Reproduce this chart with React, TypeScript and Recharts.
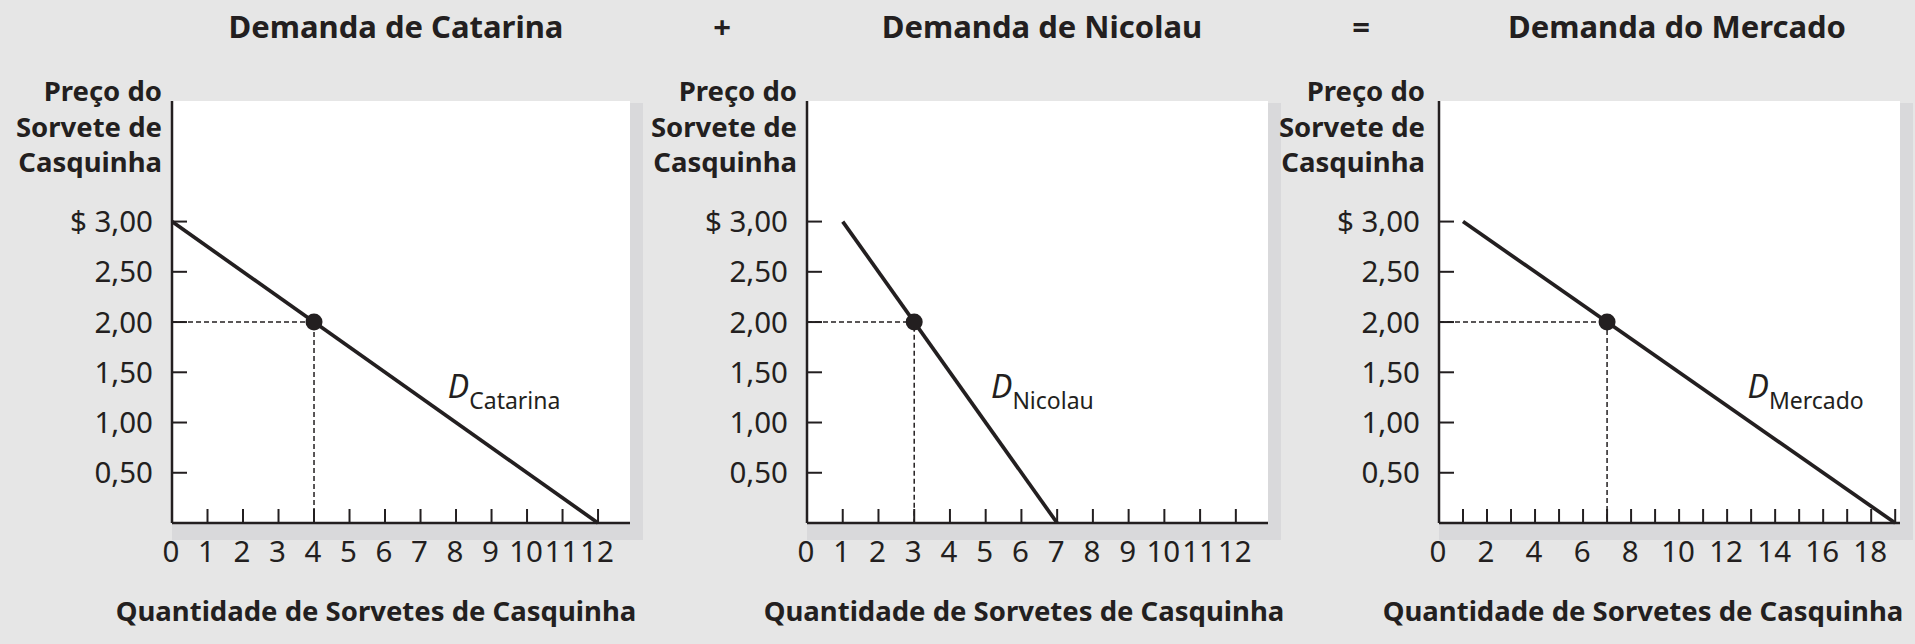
import {
  CartesianGrid,
  Line,
  LineChart,
  ReferenceDot,
  XAxis,
  YAxis,
} from "recharts";

// price axis (shared by the three panels)
const PRICE_TICKS = [0, 0.5, 1, 1.5, 2, 2.5, 3];
const PRICE_LABELS = ["", "0,50", "1,00", "1,50", "2,00", "2,50", "$ 3,00"];

// quantity axes
const SMALL_Q_TICKS = [0, 1, 2, 3, 4, 5, 6, 7, 8, 9, 10, 11, 12];
const SMALL_Q_LABELS = SMALL_Q_TICKS;
const MARKET_Q_TICKS = [
  0, 1, 2, 3, 4, 5, 6, 7, 8, 9, 10, 11, 12, 13, 14, 15, 16, 17, 18, 19,
];
const MARKET_Q_LABELS = [0, 2, 4, 6, 8, 10, 12, 14, 16, 18];

// demand curves
const catarinaDemand = [
  { q: 0, p: 3 },
  { q: 12, p: 0 },
];
const nicolauDemand = [
  { q: 1, p: 3 },
  { q: 7, p: 0 },
];
const mercadoDemand = [
  { q: 1, p: 3 },
  { q: 19, p: 0 },
];

// quantity demanded at $2,00
const catarinaPoint = { q: 4, p: 2 };
const nicolauPoint = { q: 3, p: 2 };
const mercadoPoint = { q: 7, p: 2 };

// where the curve names sit
const catarinaTag = { q: 7.77, p: 1.24, name: "Catarina" };
const nicolauTag = { q: 5.15, p: 1.24, name: "Nicolau" };
const mercadoTag = { q: 12.85, p: 1.24, name: "Mercado" };

const INK = "#231f20";
const FONT = "'Noto Sans', 'Open Sans', sans-serif";

const PLOT_TOP = 101;
const PLOT_BOTTOM = 523;
const CHART_H = 644;
const PAD_LEFT = 170;
const PAD_RIGHT = 30;
const AXIS_W = 1;
const TICK_FONT = 29.5;

type Pt = { q: number; p: number };

type PanelProps = {
  plotLeft: number;
  plotWidth: number;
  xMax: number;
  qTicks: number[];
  qLabels: number[];
  demand: Pt[];
  point: Pt;
  tag: { q: number; p: number; name: string };
};

function guide(point: Pt): Pt[] {
  return [
    { q: 0, p: point.p },
    { q: point.q, p: point.p },
    { q: point.q, p: 0 },
  ];
}

function Panel({
  plotLeft,
  plotWidth,
  xMax,
  qTicks,
  qLabels,
  demand,
  point,
  tag,
}: PanelProps) {
  const width = PAD_LEFT + plotWidth + PAD_RIGHT;

  const xTick = (props: any) => {
    const { x, y, payload } = props;
    const v = payload.value;
    return (
      <g>
        {v !== 0 && (
          <line x1={x} y1={y} x2={x} y2={y - 14} stroke={INK} strokeWidth={2} />
        )}
        {qLabels.includes(v) && (
          <text
            x={x - 1}
            y={y + 39}
            textAnchor="middle"
            fontSize={TICK_FONT}
            fill={INK}
            fontFamily={FONT}
          >
            {v}
          </text>
        )}
      </g>
    );
  };

  const yTick = (props: any) => {
    const { x, y, payload } = props;
    const i = PRICE_TICKS.indexOf(payload.value);
    if (payload.value === 0) return <g />;
    return (
      <g>
        <line x1={x} y1={y} x2={x + 15} y2={y} stroke={INK} strokeWidth={2} />
        <text
          x={x - 19}
          y={y + 10.5}
          textAnchor="end"
          fontSize={TICK_FONT}
          fill={INK}
          fontFamily={FONT}
        >
          {PRICE_LABELS[i]}
        </text>
      </g>
    );
  };

  return (
    <>
      <div
        style={{
          position: "absolute",
          left: plotLeft,
          top: PLOT_TOP + 2,
          width: plotWidth + 13,
          height: PLOT_BOTTOM - PLOT_TOP + 15,
          background: "#d9d9db",
        }}
      />
      <div style={{ position: "absolute", left: plotLeft - PAD_LEFT, top: 0 }}>
        <LineChart
          width={width}
          height={CHART_H}
          margin={{
            top: PLOT_TOP,
            right: PAD_RIGHT,
            bottom: CHART_H - PLOT_BOTTOM - AXIS_W,
            left: PAD_LEFT - AXIS_W,
          }}
        >
          <CartesianGrid
            fill="#ffffff"
            horizontal={false}
            vertical={false}
            stroke="none"
          />
          <XAxis
            type="number"
            dataKey="q"
            domain={[0, xMax]}
            ticks={qTicks}
            interval={0}
            height={AXIS_W}
            tickSize={0}
            tickMargin={0}
            tickLine={false}
            axisLine={{ stroke: INK, strokeWidth: 2.5 }}
            tick={xTick}
          />
          <YAxis
            type="number"
            dataKey="p"
            domain={[0, 4.2]}
            ticks={PRICE_TICKS}
            interval={0}
            width={AXIS_W}
            tickSize={0}
            tickMargin={0}
            tickLine={false}
            axisLine={{ stroke: INK, strokeWidth: 2.5 }}
            tick={yTick}
          />
          <Line
            data={guide(point)}
            dataKey="p"
            stroke={INK}
            strokeWidth={1.5}
            strokeDasharray="5 3"
            dot={false}
            isAnimationActive={false}
          />
          <Line
            data={demand}
            dataKey="p"
            stroke={INK}
            strokeWidth={3.7}
            dot={false}
            isAnimationActive={false}
          />
          <ReferenceDot
            x={point.q}
            y={point.p}
            r={8.5}
            fill={INK}
            stroke="none"
          />
          <ReferenceDot
            x={tag.q}
            y={tag.p}
            r={0}
            shape={(props: any) => (
              <text x={props.cx} y={props.cy} fill={INK} fontFamily={FONT}>
                <tspan fontSize={32} fontStyle="italic">
                  D
                </tspan>
                <tspan fontSize={23} dy={11}>
                  {tag.name}
                </tspan>
              </text>
            )}
          />
        </LineChart>
      </div>
    </>
  );
}

const Y_TITLE = ["Preço do", "Sorvete de", "Casquinha"];
const X_TITLE = "Quantidade de Sorvetes de Casquinha";

export default function App() {
  const yTitle = (right: number) =>
    Y_TITLE.map((s, i) => (
      <text
        key={s}
        x={right}
        y={101 + i * 35.5}
        textAnchor="end"
        fontSize={27.5}
        fontWeight={700}
      >
        {s}
      </text>
    ));

  return (
    <div
      style={{
        position: "fixed",
        left: 0,
        top: 0,
        width: 1915,
        height: 644,
        background: "#e6e6e6",
        fontFamily: FONT,
        overflow: "hidden",
      }}
    >
      <Panel
        plotLeft={172}
        plotWidth={458}
        xMax={12.9}
        qTicks={SMALL_Q_TICKS}
        qLabels={SMALL_Q_LABELS}
        demand={catarinaDemand}
        point={catarinaPoint}
        tag={catarinaTag}
      />
      <Panel
        plotLeft={807}
        plotWidth={461}
        xMax={12.9}
        qTicks={SMALL_Q_TICKS}
        qLabels={SMALL_Q_LABELS}
        demand={nicolauDemand}
        point={nicolauPoint}
        tag={nicolauTag}
      />
      <Panel
        plotLeft={1439}
        plotWidth={461}
        xMax={19.2}
        qTicks={MARKET_Q_TICKS}
        qLabels={MARKET_Q_LABELS}
        demand={mercadoDemand}
        point={mercadoPoint}
        tag={mercadoTag}
      />
      <svg
        width={1915}
        height={644}
        style={{ position: "absolute", left: 0, top: 0, pointerEvents: "none" }}
        fill={INK}
        fontFamily={FONT}
      >
        <g fontSize={31} fontWeight={700} textAnchor="middle">
          <text x={396} y={38}>Demanda de Catarina</text>
          <text x={722} y={38}>+</text>
          <text x={1042} y={38}>Demanda de Nicolau</text>
          <text x={1361} y={38}>=</text>
          <text x={1677} y={38}>Demanda do Mercado</text>
        </g>
        {yTitle(162)}
        {yTitle(797)}
        {yTitle(1425)}
        <g fontSize={27.5} fontWeight={700} textAnchor="middle">
          <text x={376} y={621}>{X_TITLE}</text>
          <text x={1024} y={621}>{X_TITLE}</text>
          <text x={1643} y={621}>{X_TITLE}</text>
        </g>
      </svg>
    </div>
  );
}
